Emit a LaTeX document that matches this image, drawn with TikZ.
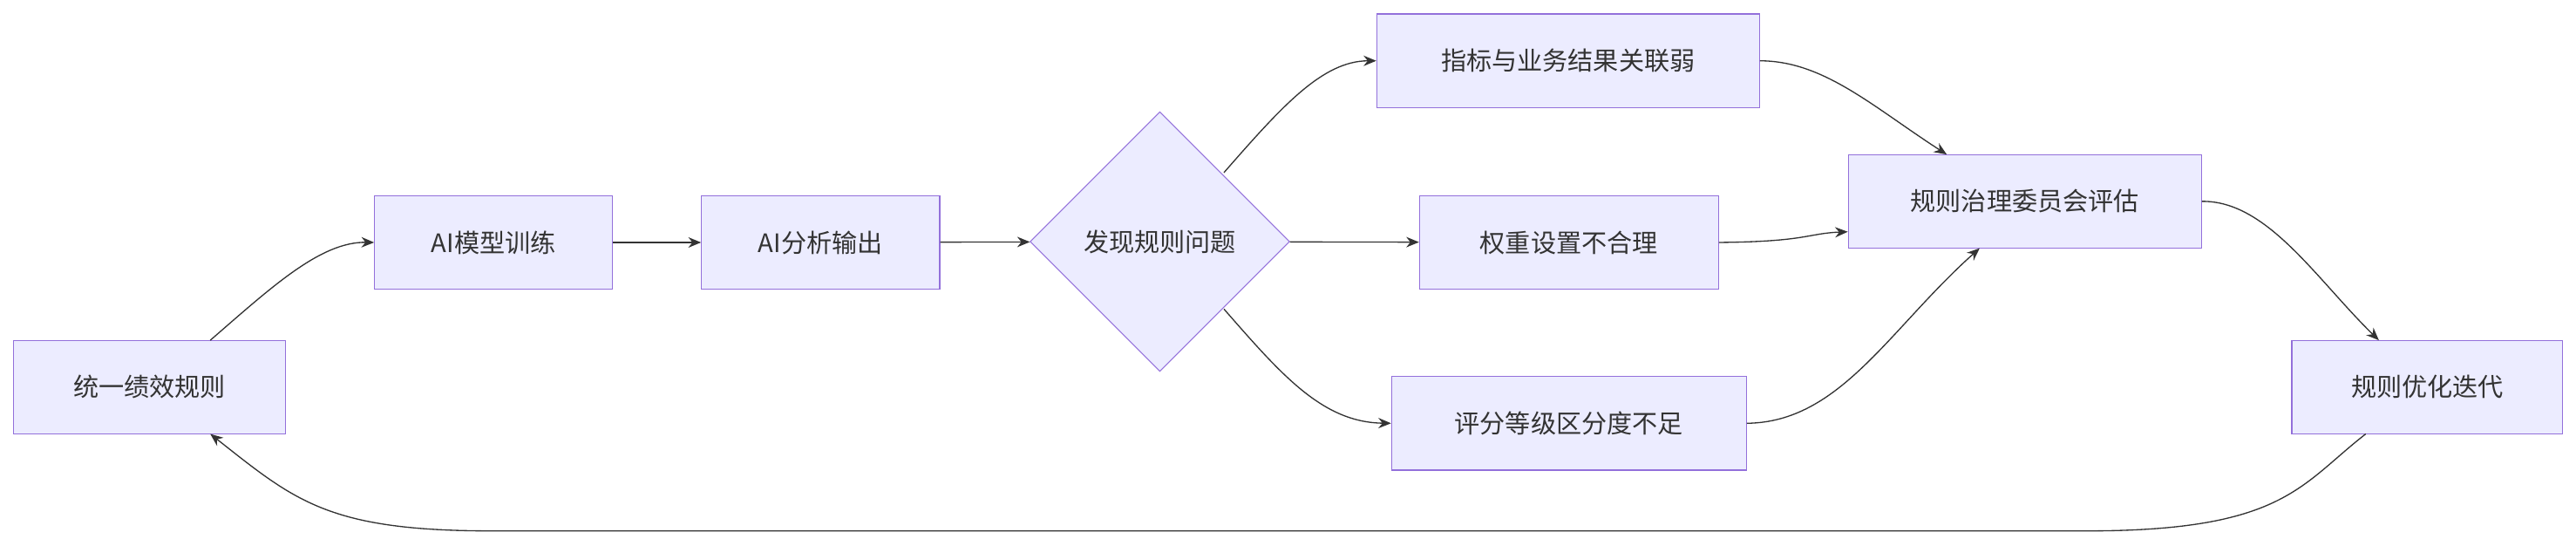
\documentclass[tikz,border=0pt]{standalone}
\usepackage{fontspec}
\setmainfont{Noto Sans CJK SC}
\usetikzlibrary{shapes.geometric,arrows.meta}
\definecolor{nfill}{HTML}{ECECFF}
\definecolor{nline}{HTML}{9370DB}
\definecolor{eline}{HTML}{333333}
\begin{document}
\begin{tikzpicture}[x=0.1cm,y=-0.1cm,
  box/.style={draw=nline,fill=nfill,line width=1.6pt,inner sep=0pt,font=\fontsize{44}{50}\selectfont,text=eline},
  edge/.style={draw=eline,line width=2pt,-{Stealth[length=22pt,width=18pt]}}]
\useasboundingbox (0,0) rectangle (1568,332);
\node[box,minimum width=166cm/10,minimum height=57cm/10] (a) at (91,235.5) {统一绩效规则};
\node[box,minimum width=14.5cm,minimum height=5.7cm] (b) at (300.5,147.5) {AI模型训练};
\node[box,minimum width=14.5cm,minimum height=5.7cm] (c) at (499.5,147.5) {AI分析输出};
\node[box,diamond,minimum width=15.8cm,minimum height=15.8cm] (d) at (706,147) {发现规则问题};
\node[box,minimum width=23.3cm,minimum height=5.7cm] (e) at (954.5,37) {指标与业务结果关联弱};
\node[box,minimum width=18.2cm,minimum height=5.7cm] (f) at (955,147.5) {权重设置不合理};
\node[box,minimum width=21.6cm,minimum height=5.7cm] (g) at (955,257.5) {评分等级区分度不足};
\node[box,minimum width=21.5cm,minimum height=5.7cm] (h) at (1232.5,122.5) {规则治理委员会评估};
\node[box,minimum width=16.5cm,minimum height=5.7cm] (i) at (1477.5,235.5) {规则优化迭代};
\draw[edge] (128,207) .. controls (165,175) and (195,147) .. (b.west);
\draw[edge] (b) -- (c);
\draw[edge] (c) -- (d);
\draw[edge] (745,105) .. controls (780,65) and (805,37) .. (e.west);
\draw[edge] (d) -- (f);
\draw[edge] (745,188) .. controls (780,228) and (805,257) .. (g.west);
\draw[edge] (e.east) .. controls (1110,37) and (1140,65) .. (1185,94);
\draw[edge] (f.east) .. controls (1100,147) and (1100,142) .. (h.west|-0,141);
\draw[edge] (g.east) .. controls (1120,257) and (1150,200) .. (1205,151);
\draw[edge] (h.east) .. controls (1380,122) and (1410,170) .. (1448,207);
\draw[edge] (1440,264) .. controls (1400,295) and (1390,323) .. (1270,323) -- (300,323) .. controls (200,323) and (180,305) .. (128,264);
\end{tikzpicture}
\end{document}
